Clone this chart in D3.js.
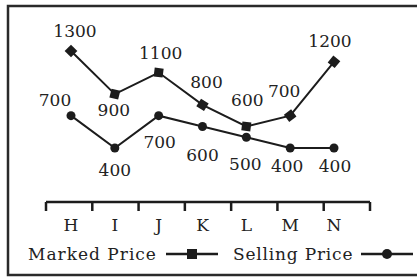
<!DOCTYPE html>
<html lang="en">
<head>
<meta charset="UTF-8">
<title>Marked Price vs Selling Price</title>
<script src="https://d3js.org/d3.v7.min.js"></script>
<style>
    body { margin: 0; background: #fff; }
    svg text { font-family: "DejaVu Serif", serif; fill: #222; }
</style>
</head>
<body>
<svg width="417" height="278"></svg>
<script>
    // data
    const categories = ["H", "I", "J", "K", "L", "M", "N"];
    const markedPrice = [1300, 900, 1100, 800, 600, 700, 1200];
    const sellingPrice = [700, 400, 700, 600, 500, 400, 400];

    // where each value label sits relative to its point (dx, dy)
    const markedLabelOffset = [[4, -14], [-1, 22], [2, -14], [4, -17], [1, -20], [-6, -19], [-4, -15]];
    const sellingLabelOffset = [[-16, -10], [0, 28], [1, 32], [0, 35], [-1, 33], [-3, 24], [1, 24]];

    const svg = d3.select("svg");
    const ink = "#1c1c1c";

    // frame
    svg.append("rect")
        .attr("x", 8).attr("y", 6)
        .attr("width", 420).attr("height", 269)
        .attr("fill", "none")
        .attr("stroke", "#2a2a2a")
        .attr("stroke-width", 2.5);

    const x = d3.scalePoint().domain(categories).range([71, 334]);
    const y = d3.scaleLinear().domain([400, 1300]).range([148, 51]);
    // tick marks between categories (boundaries 0..7)
    const tickX = d3.scaleLinear().domain([0, categories.length]).range([46, 370]);

    // axis
    const axisY = 202;
    svg.append("line")
        .attr("x1", tickX(0)).attr("x2", tickX(categories.length))
        .attr("y1", axisY).attr("y2", axisY)
        .attr("stroke", ink).attr("stroke-width", 2.5);

    svg.selectAll(".tick")
        .data(d3.range(categories.length + 1))
        .enter().append("line")
        .attr("class", "tick")
        .attr("x1", d => tickX(d)).attr("x2", d => tickX(d))
        .attr("y1", axisY).attr("y2", axisY + 9)
        .attr("stroke", ink).attr("stroke-width", 2.5);

    svg.selectAll(".cat")
        .data(categories)
        .enter().append("text")
        .attr("class", "cat")
        .attr("x", d => x(d))
        .attr("y", 231)
        .attr("text-anchor", "middle")
        .attr("font-size", 17)
        .text(d => d);

    const line = d3.line()
        .x((d, i) => x(categories[i]))
        .y(d => y(d));

    // Marked price
    svg.append("path")
        .datum(markedPrice)
        .attr("d", line)
        .attr("fill", "none")
        .attr("stroke", ink)
        .attr("stroke-width", 2);

    // squares turned to follow the line
    function angleAt(vals, i) {
        const a = Math.max(0, i - 1), b = Math.min(vals.length - 1, i + 1);
        const dx = x(categories[b]) - x(categories[a]);
        const dy = y(vals[b]) - y(vals[a]);
        return Math.atan2(dy, dx) * 180 / Math.PI;
    }

    svg.selectAll(".sq")
        .data(markedPrice)
        .enter().append("rect")
        .attr("class", "sq")
        .attr("x", -4.5).attr("y", -4.5)
        .attr("width", 9).attr("height", 9)
        .attr("fill", ink)
        .attr("transform", (d, i) => `translate(${x(categories[i])},${y(d)}) rotate(${i === 0 ? 45 : angleAt(markedPrice, i)})`);

    svg.selectAll(".mlab")
        .data(markedPrice)
        .enter().append("text")
        .attr("class", "mlab")
        .attr("x", (d, i) => x(categories[i]) + markedLabelOffset[i][0])
        .attr("y", (d, i) => y(d) + markedLabelOffset[i][1])
        .attr("text-anchor", "middle")
        .attr("font-size", 17)
        .text(d => d);

    // Selling price
    svg.append("path")
        .datum(sellingPrice)
        .attr("d", line)
        .attr("fill", "none")
        .attr("stroke", ink)
        .attr("stroke-width", 2);

    svg.selectAll(".dot")
        .data(sellingPrice)
        .enter().append("circle")
        .attr("class", "dot")
        .attr("cx", (d, i) => x(categories[i]))
        .attr("cy", d => y(d))
        .attr("r", 4.5)
        .attr("fill", ink);

    svg.selectAll(".slab")
        .data(sellingPrice)
        .enter().append("text")
        .attr("class", "slab")
        .attr("x", (d, i) => x(categories[i]) + sellingLabelOffset[i][0])
        .attr("y", (d, i) => y(d) + sellingLabelOffset[i][1])
        .attr("text-anchor", "middle")
        .attr("font-size", 17)
        .text(d => d);

    // legend
    const lg = svg.append("g").attr("transform", "translate(0,254)");
    lg.append("text").attr("x", 28).attr("y", 6).attr("font-size", 17)
        .attr("letter-spacing", 1).text("Marked Price");
    lg.append("line").attr("x1", 166).attr("x2", 218).attr("y1", 0).attr("y2", 0)
        .attr("stroke", ink).attr("stroke-width", 2.5);
    lg.append("rect").attr("x", 187).attr("y", -5).attr("width", 10).attr("height", 10).attr("fill", ink);

    lg.append("text").attr("x", 233).attr("y", 6).attr("font-size", 17)
        .attr("letter-spacing", 0.8).text("Selling Price");
    lg.append("line").attr("x1", 361).attr("x2", 413).attr("y1", 0).attr("y2", 0)
        .attr("stroke", ink).attr("stroke-width", 2.5);
    lg.append("circle").attr("cx", 387).attr("cy", 0).attr("r", 5).attr("fill", ink);
</script>
</body>
</html>
